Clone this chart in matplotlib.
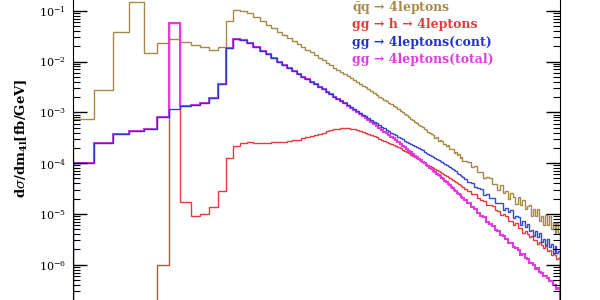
import numpy as np
import matplotlib
matplotlib.use("Agg")
import matplotlib.pyplot as plt
from matplotlib.ticker import LogLocator, FixedLocator, NullFormatter

plt.rcParams['font.family'] = 'DejaVu Serif'
plt.rcParams['mathtext.fontset'] = 'dejavuserif'

# m4l bin edges [GeV]: 10 GeV bins up to 1 TeV, 25 GeV bins up to 2 TeV
edges = np.concatenate([np.arange(60, 1000, 10), np.arange(1000, 2001, 25)])

# log10(dsigma/dm4l [fb/GeV]) per bin
qq_4l = [-3.13, -2.56, -1.41, -0.82, -1.84, -1.63, -1.56, -1.61, -1.675, -1.72,
         -1.77, -1.71, -1.20, -0.99, -1.00, -1.05, -1.13, -1.20, -1.28, -1.35,
         -1.415, -1.48, -1.54, -1.60, -1.66, -1.72, -1.77, -1.82, -1.88, -1.93,
         -1.98, -2.02, -2.07, -2.12, -2.16, -2.20, -2.25, -2.29, -2.33, -2.37,
         -2.40, -2.44, -2.48, -2.51, -2.55, -2.58, -2.62, -2.65, -2.69, -2.72,
         -2.75, -2.78, -2.82, -2.84,
         -2.875, -2.905, -2.935, -2.965, -2.995, -3.03, -3.06, -3.095, -3.125, -3.155,
         -3.185, -3.215, -3.24, -3.27, -3.295, -3.325, -3.35, -3.38, -3.405, -3.435,
         -3.45, -3.50, -3.49, -3.56, -3.55, -3.57, -3.63, -3.63, -3.67, -3.65,
         -3.72, -3.72, -3.73, -3.81, -3.78, -3.84, -3.82, -3.89, -3.88, -3.95,
         -3.95, -3.97, -4.07, -4.06, -4.18, -4.18, -4.30, -4.27, -4.29, -4.42,
         -4.41, -4.53, -4.44, -4.58, -4.54, -4.70, -4.59, -4.67, -4.81, -4.67,
         -4.83, -4.72, -4.91, -4.85, -4.82, -5.04, -4.91, -5.05, -4.90, -5.13,
         -5.04, -5.21, -5.03, -5.21, -5.05, -5.30, -5.17, -5.38, -5.18, -5.38]

gg_h_4l = [-9, -9, -9, -9, -9, -6.01, -1.25, -4.76, -5.035, -5.01,
           -4.86, -4.54, -3.905, -3.66, -3.60, -3.59, -3.60, -3.60, -3.595, -3.59,
           -3.585, -3.575, -3.56, -3.55, -3.54, -3.515, -3.49, -3.47, -3.45, -3.43,
           -3.40, -3.37, -3.34, -3.325, -3.32, -3.315, -3.315, -3.315, -3.32, -3.335,
           -3.35, -3.365, -3.38, -3.40, -3.42, -3.445, -3.47, -3.495, -3.52, -3.54,
           -3.56, -3.58, -3.60, -3.62,
           -3.64, -3.66, -3.685, -3.71, -3.735, -3.76, -3.785, -3.81, -3.835, -3.86,
           -3.88, -3.905, -3.925, -3.95, -3.97, -3.995, -4.015, -4.035, -4.06, -4.08,
           -4.10, -4.12, -4.14, -4.16, -4.18, -4.20, -4.22, -4.24, -4.255, -4.275,
           -4.295, -4.315, -4.335, -4.355, -4.375, -4.395, -4.415, -4.435, -4.455, -4.475,
           -4.50, -4.54, -4.60, -4.61, -4.69, -4.72, -4.74, -4.82, -4.82, -4.84,
           -4.93, -4.94, -5.02, -5.01, -5.04, -5.13, -5.14, -5.22, -5.18, -5.27,
           -5.27, -5.37, -5.33, -5.39, -5.46, -5.43, -5.52, -5.51, -5.60, -5.56,
           -5.61, -5.68, -5.64, -5.73, -5.71, -5.81, -5.78, -5.80, -5.89, -5.86]

gg_4l_cont = [-3.99, -3.60, -3.42, -3.37, -3.32, -3.10, -2.94, -2.88, -2.85, -2.82,
              -2.72, -2.44, -1.74, -1.56, -1.58, -1.63, -1.71, -1.79, -1.86, -1.93,
              -2.00, -2.06, -2.12, -2.18, -2.24, -2.30, -2.35, -2.40, -2.45, -2.50,
              -2.55, -2.60, -2.645, -2.69, -2.73, -2.775, -2.82, -2.86, -2.90, -2.94,
              -2.97, -3.01, -3.05, -3.08, -3.12, -3.15, -3.185, -3.22, -3.25, -3.28,
              -3.31, -3.34, -3.37, -3.40,
              -3.43, -3.455, -3.48, -3.505, -3.53, -3.555, -3.575, -3.60, -3.62, -3.645,
              -3.665, -3.69, -3.71, -3.73, -3.75, -3.775, -3.795, -3.815, -3.835, -3.855,
              -3.875, -3.895, -3.915, -3.935, -3.955, -3.975, -3.995, -4.015, -4.035, -4.055,
              -4.075, -4.10, -4.12, -4.145, -4.165, -4.19, -4.21, -4.235, -4.255, -4.28,
              -4.31, -4.37, -4.39, -4.47, -4.49, -4.51, -4.62, -4.61, -4.69, -4.68,
              -4.79, -4.78, -4.79, -4.92, -4.88, -4.97, -4.93, -5.08, -5.05, -5.07,
              -5.21, -5.13, -5.25, -5.19, -5.33, -5.31, -5.43, -5.33, -5.45, -5.38,
              -5.55, -5.50, -5.61, -5.50, -5.66, -5.60, -5.76, -5.64, -5.77, -5.73]

gg_4l_total = [-3.99, -3.60, -3.42, -3.37, -3.32, -3.10, -1.25, -2.88, -2.85, -2.82,
               -2.72, -2.44, -1.74, -1.56, -1.58, -1.63, -1.71, -1.79, -1.86, -1.93,
               -2.00, -2.06, -2.12, -2.18, -2.24, -2.30, -2.35, -2.40, -2.45, -2.50,
               -2.55, -2.60, -2.645, -2.69, -2.73, -2.78, -2.825, -2.87, -2.91, -2.96,
               -3.00, -3.04, -3.08, -3.12, -3.155, -3.19, -3.23, -3.27, -3.31, -3.345,
               -3.38, -3.415, -3.45, -3.48,
               -3.515, -3.55, -3.585, -3.62, -3.655, -3.69, -3.725, -3.755, -3.785, -3.82,
               -3.855, -3.885, -3.915, -3.945, -3.975, -4.005, -4.035, -4.065, -4.095, -4.125,
               -4.15, -4.18, -4.205, -4.235, -4.26, -4.29, -4.32, -4.35, -4.375, -4.405,
               -4.435, -4.465, -4.495, -4.525, -4.55, -4.58, -4.605, -4.635, -4.66, -4.685,
               -4.73, -4.78, -4.87, -4.90, -4.98, -5.05, -5.07, -5.15, -5.19, -5.23,
               -5.32, -5.34, -5.41, -5.43, -5.49, -5.57, -5.58, -5.66, -5.68, -5.72,
               -5.80, -5.79, -5.87, -5.89, -5.96, -5.96, -6.01, -6.08, -6.07, -6.15,
               -6.16, -6.23, -6.22, -6.27, -6.33, -6.32, -6.39, -6.40, -6.47, -6.46]

labels = [r'$\mathbf{\bar{q}q}$ → 4leptons', 'gg → h → 4leptons',
          'gg → 4leptons(cont)', 'gg → 4leptons(total)']
colors = ['#a68b48', '#e23c3c', '#2233cc', '#e03ce0']

fig = plt.figure(figsize=(6, 3), dpi=100)
ax = fig.add_axes([73/600, 0, 487/600, 1])

ax.stairs(10.0**np.array(qq_4l), edges, color=colors[0], lw=1.0)
ax.stairs(10.0**np.array(gg_h_4l), edges, color=colors[1], lw=1.0)
ax.stairs(10.0**np.array(gg_4l_total), edges, color=colors[3], lw=1.5)
ax.stairs(10.0**np.array(gg_4l_cont), edges, color=colors[2], lw=1.0, alpha=0.9)

ax.set_xscale('log')
ax.set_yscale('log')
ax.set_xlim(60, 2000)
ax.set_ylim(10**-6.695, 10**-0.789)

ax.spines['top'].set_visible(False)
ax.spines['bottom'].set_visible(False)
ax.xaxis.set_visible(False)
ax.yaxis.set_major_locator(FixedLocator([1e-6, 1e-5, 1e-4, 1e-3, 1e-2, 1e-1]))
ax.yaxis.set_minor_locator(LogLocator(base=10, subs=np.arange(2, 10), numticks=20))
ax.yaxis.set_minor_formatter(NullFormatter())
ax.tick_params(axis='y', which='both', direction='in', left=True, right=True, labelsize=8, pad=5)
ax.tick_params(axis='y', which='major', length=10, width=1)
ax.tick_params(axis='y', which='minor', length=5, width=0.8)

ax.set_ylabel(r'd$\sigma$/dm$_{\mathbf{4l}}$[fb/GeV]', fontsize=9.5, fontweight='bold')
ax.yaxis.set_label_coords(-0.088, 0.54)

ys = [0.975, 0.918, 0.857, 0.80]
for lab, c, yy in zip(labels, colors, ys):
    fig.text(352/600, yy, lab, color=c, fontsize=9, fontweight='bold', va='center', ha='left')

plt.savefig('out.png', dpi=100)
